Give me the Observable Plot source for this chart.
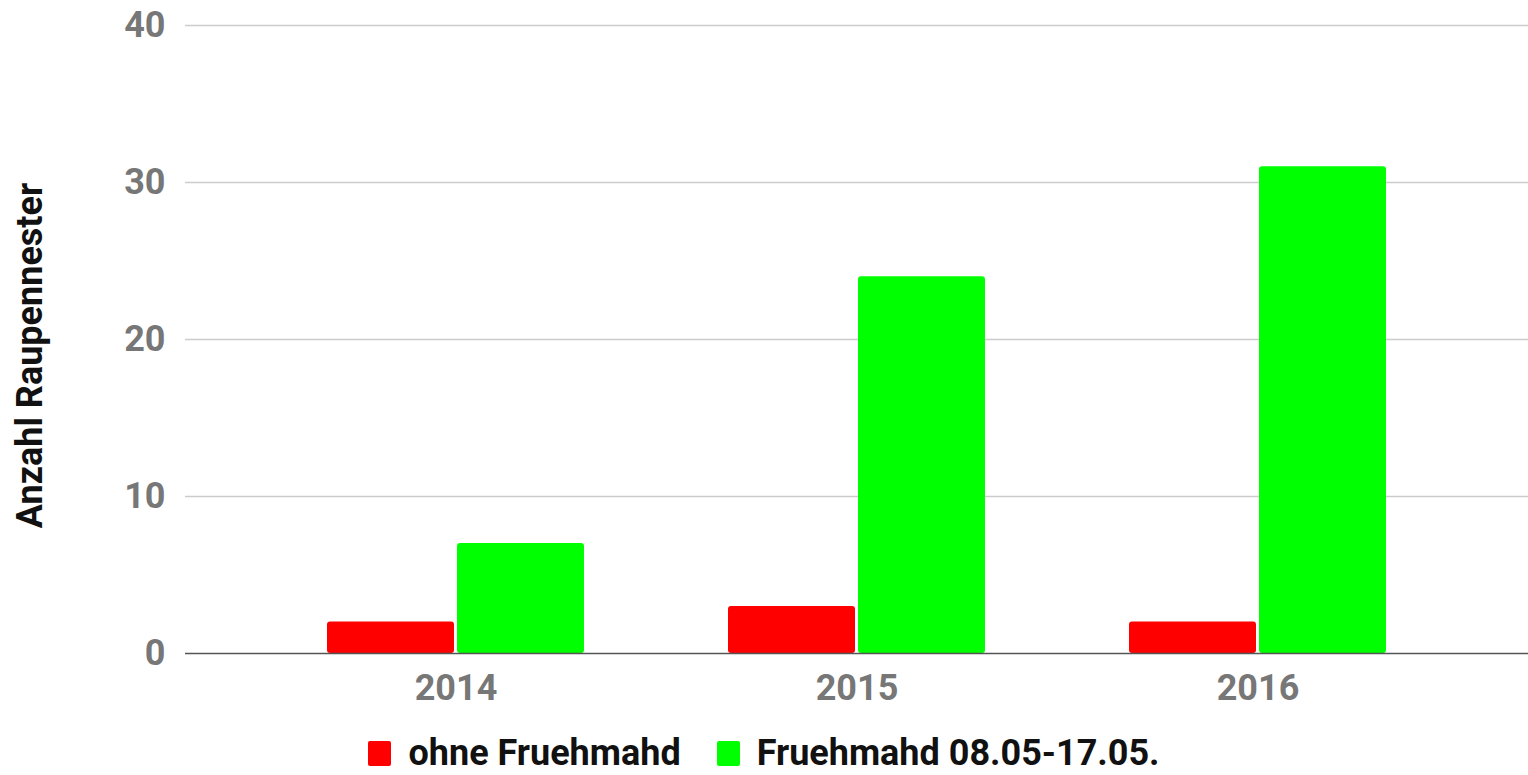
<!DOCTYPE html>
<html>
<head>
<meta charset="utf-8">
<script src="https://cdn.jsdelivr.net/npm/d3@7"></script>
<script src="https://cdn.jsdelivr.net/npm/@observablehq/plot@0.6"></script>
<style>
  html, body { margin: 0; padding: 0; background: #fff; overflow: hidden; }
  body { font-family: Roboto, "Noto Sans", sans-serif; }
  #chart svg { display: block; }
  #legend { display: flex; justify-content: center; align-items: center; gap: 36px; height: 40px; line-height: 1; font-size: 36px; font-weight: bold; color: #111; margin-top: 13px; }
  .item { display: flex; align-items: center; gap: 17px; }
  .sw { width: 23px; height: 25px; border-radius: 2px; display: inline-block; }
</style>
</head>
<body>
<div id="chart"></div>
<div id="legend"></div>
<script>
const years = ["2014", "2015", "2016"];
const seriesNames = ["ohne Fruehmahd", "Fruehmahd 08.05-17.05."];
const ohneFruehmahd = [2, 3, 2];
const fruehmahd = [7, 24, 31];
const seriesColors = ["#ff0000", "#00ff00"];
const yTicks = [0, 10, 20, 30, 40];
const yLabel = "Anzahl Raupennester";

const data = years.map((y, i) => ({ year: y, ohne: ohneFruehmahd[i], frueh: fruehmahd[i] }));

const chart = Plot.plot({
  width: 1528,
  height: 720,
  marginLeft: 185,
  marginRight: 0,
  marginTop: 25,
  marginBottom: 67,
  style: { fontFamily: "Roboto, 'Noto Sans', sans-serif", background: "#fff" },
  x: { domain: years, paddingInner: 0.358, paddingOuter: 0.35, axis: null },
  y: { domain: [0, 40], axis: null },
  marks: [
    Plot.ruleY(yTicks.filter(d => d !== 0), { stroke: "#cccccc", strokeWidth: 1.5 }),
    Plot.axisY(yTicks, { tickSize: 0, tickPadding: 20, fontSize: 36, fontWeight: "bold", color: "#777777", label: null }),
    Plot.axisX({ tickSize: 0, tickPadding: 21, fontSize: 36, fontWeight: "bold", color: "#777777", label: null }),
    Plot.barY(data, { x: "year", y: "ohne", fill: seriesColors[0], insetRight: 130, rx: 3 }),
    Plot.barY(data, { x: "year", y: "frueh", fill: seriesColors[1], insetLeft: 130, rx: 3 }),
    Plot.ruleY([0], { stroke: "#555555", strokeWidth: 1.5 }),
    Plot.text([yLabel], { frameAnchor: "left", textAnchor: "middle", dx: -155, dy: 16, rotate: -90, fontSize: 36, fontWeight: "bold", fill: "#111" })
  ]
});
document.getElementById("chart").appendChild(chart);

const legend = document.getElementById("legend");
seriesNames.forEach((name, i) => {
  const item = document.createElement("div");
  item.className = "item";
  const sw = document.createElement("span");
  sw.className = "sw";
  sw.style.background = seriesColors[i];
  const label = document.createElement("span");
  label.textContent = name;
  item.appendChild(sw);
  item.appendChild(label);
  legend.appendChild(item);
});
</script>
</body>
</html>
